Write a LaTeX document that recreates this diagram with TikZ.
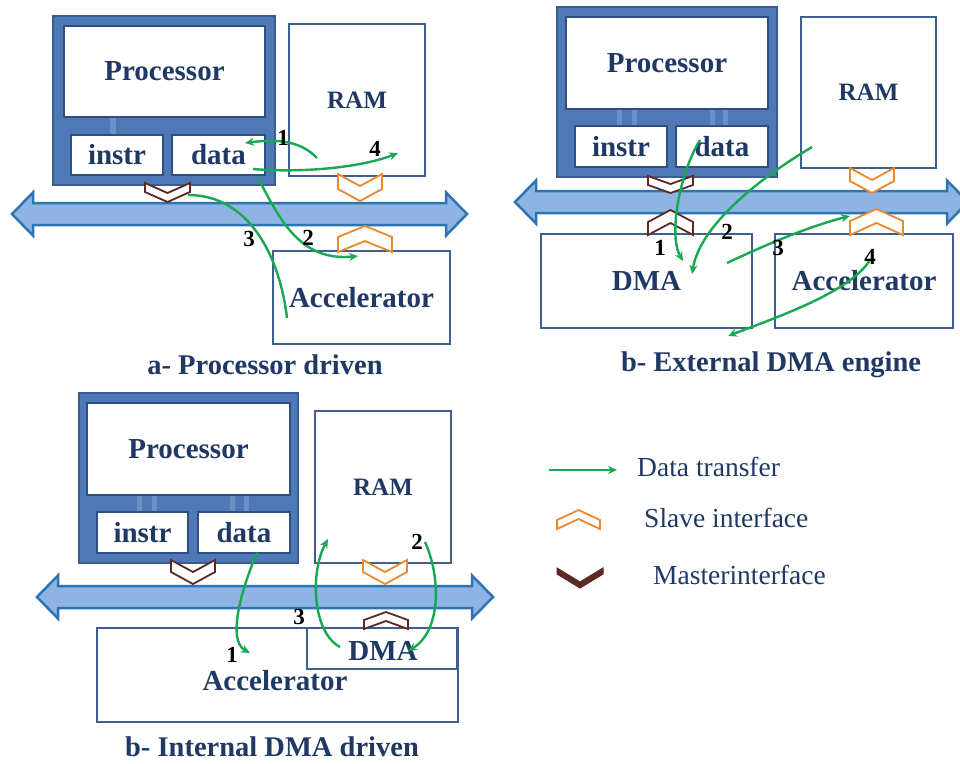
\documentclass[tikz,border=0pt]{standalone}
\usepackage{fontspec}
\setmainfont{Liberation Serif}
\usetikzlibrary{arrows.meta}
\definecolor{navy}{HTML}{1F3864}
\definecolor{boxline}{HTML}{3F5F8F}
\definecolor{procfill}{HTML}{4F78B6}
\definecolor{procline}{HTML}{3A5C92}
\definecolor{procmark}{HTML}{6A90C8}
\definecolor{subline}{HTML}{2F4F80}
\definecolor{busfill}{HTML}{8EB4E3}
\definecolor{busline}{HTML}{2E74B5}
\definecolor{grn}{HTML}{17A851}
\definecolor{slaveor}{HTML}{E8892E}
\definecolor{masterbr}{HTML}{5C2A22}
\tikzset{
 box/.style={draw=boxline, line width=1.8pt, fill=white, inner sep=0pt, font=\fontsize{29}{32}\selectfont\bfseries, text=navy},
 proc/.style={draw=procline, line width=2pt, fill=procfill, inner sep=0pt},
 subbox/.style={draw=subline, line width=1.5pt, fill=white, inner sep=0pt, font=\fontsize{29}{32}\selectfont\bfseries, text=navy},
 ramfont/.style={font=\fontsize{25}{28}\selectfont\bfseries},
 bus/.style={draw=busline, line width=2.5pt, fill=busfill, line join=miter},
 slave/.style={draw=slaveor, line width=1.8pt, fill=white, line join=miter},
 master/.style={draw=masterbr, line width=1.8pt, fill=white, line join=miter},
 flow/.style={draw=grn, line width=2.4pt, -{Stealth[length=9pt,width=8pt]}},
 flowplain/.style={draw=grn, line width=2.4pt},
 num/.style={font=\fontsize{23}{25}\selectfont\bfseries, text=black, inner sep=0pt},
 ttl/.style={font=\fontsize{28.5}{31}\selectfont\bfseries, text=navy, inner sep=0pt},
 leg/.style={font=\fontsize{27.5}{30}\selectfont, text=navy, anchor=west, inner sep=0pt},
 procmk/.style={fill=procmark, draw=none},
}
\newcommand{\busarrow}[3]{%
 \draw[bus] (#1,#3) -- ({#1+21},{#3-21.5}) -- ({#1+21},{#3-11}) -- ({#2-21},{#3-11}) -- ({#2-21},{#3-21.5}) -- (#2,#3) -- ({#2-21},{#3+21.5}) -- ({#2-21},{#3+11}) -- ({#1+21},{#3+11}) -- ({#1+21},{#3+21.5}) -- cycle;}
\newcommand{\chevD}[6]{%
 \draw[#6] (#1,#2) -- (#1,{#2+#5}) -- ({#1+#3/2},{#2+#4}) -- ({#1+#3},{#2+#5}) -- ({#1+#3},#2) -- ({#1+#3/2},{#2+#4-#5}) -- cycle;}
\newcommand{\chevU}[6]{%
 \draw[#6] ({#1+#3/2},#2) -- ({#1+#3},{#2+#4-#5}) -- ({#1+#3},{#2+#4}) -- ({#1+#3/2},{#2+#5}) -- (#1,{#2+#4}) -- (#1,{#2+#4-#5}) -- cycle;}
\begin{document}
\begin{tikzpicture}[x=1pt,y=-1pt]
\useasboundingbox[fill=white] (0,0) rectangle (960,763);

% ================= Panel a =================
\node[proc, minimum width=222pt, minimum height=169pt] (procA) at (164,100.5) {};
\fill[procmk] (110,117) rectangle (116,135);
\node[subbox, minimum width=201pt, minimum height=91pt] (cpuA) at (164.5,71.5) {Processor};
\node[subbox, minimum width=92pt, minimum height=40pt] (instrA) at (117,155) {instr};
\node[subbox, minimum width=93pt, minimum height=40pt] (dataA) at (218.5,155) {data};
\node[box, ramfont, minimum width=136pt, minimum height=152pt] (ramA) at (357,100) {RAM};
\node[box, minimum width=177pt, minimum height=93pt] (accA) at (361.5,297.5) {Accelerator};
\busarrow{12}{467}{214}
\chevD{145}{183}{45}{19}{9}{master}
\chevD{338}{174}{44}{27}{15}{slave}
\chevU{338}{226}{54}{26}{15}{slave}
\coordinate (a1s) at (317,158); \coordinate (a1e) at (245,143);
\coordinate (a4s) at (253,169); \coordinate (a4e) at (398,153);
\coordinate (a2s) at (258,178); \coordinate (a2e) at (358,256);
\coordinate (a3s) at (287,318); \coordinate (a3e) at (188,195);
\draw[flow] (a1s) .. controls (300,140) and (275,139) .. (a1e);
\draw[flow] (a4s) .. controls (300,173) and (360,168) .. (a4e);
\draw[flow] (a2s) .. controls (278,215) and (298,262) .. (a2e);
\draw[flowplain] (a3s) .. controls (280,258) and (250,195) .. (a3e);
\node[num] (na1) at (283,138) {1};
\node[num] (na4) at (375,149) {4};
\node[num] (na2) at (308,238) {2};
\node[num] (na3) at (249,239) {3};
\node[ttl] (ta) at (265,365) {a- Processor driven};

% ================= Panel b =================
\node[proc, minimum width=220pt, minimum height=170pt] (procB) at (667,92) {};
\fill[procmk] (617,109) rectangle (622,126);
\fill[procmk] (632,109) rectangle (637,126);
\fill[procmk] (710,109) rectangle (715,126);
\fill[procmk] (723,109) rectangle (728,126);
\node[subbox, minimum width=202pt, minimum height=92pt] (cpuB) at (667,63) {Processor};
\node[subbox, minimum width=92pt, minimum height=41pt] (instrB) at (621,146.5) {instr};
\node[subbox, minimum width=92pt, minimum height=41pt] (dataB) at (722,146.5) {data};
\node[box, ramfont, minimum width=135pt, minimum height=151pt] (ramB) at (868.5,92.5) {RAM};
\node[box, minimum width=211pt, minimum height=94pt] (dmaB) at (646.5,281) {DMA};
\node[box, minimum width=178pt, minimum height=94pt] (accB) at (864,281) {Accelerator};
\busarrow{515}{968}{202}
\chevD{648}{176}{45}{17}{9}{master}
\chevU{648}{210}{45}{25}{13}{master}
\chevD{850}{168}{44}{25}{13}{slave}
\chevU{850}{209}{53}{26}{14}{slave}
\coordinate (b1s) at (700,140); \coordinate (b1e) at (683,261);
\coordinate (b2s) at (812,147); \coordinate (b2e) at (692,274);
\coordinate (b3s) at (727,263); \coordinate (b3e) at (850,216);
\coordinate (b4s) at (870,260); \coordinate (b4e) at (728,336);
\draw[flow] (b1s) .. controls (680,172) and (668,235) .. (b1e);
\draw[flow] (b2s) .. controls (760,178) and (700,225) .. (b2e);
\draw[flow] (b3s) .. controls (765,245) and (810,226) .. (b3e);
\draw[flow] (b4s) .. controls (850,292) and (780,316) .. (b4e);
\node[num] (nb1) at (660,248) {1};
\node[num] (nb2) at (727,232) {2};
\node[num] (nb3) at (778,248) {3};
\node[num] (nb4) at (870,257) {4};
\node[ttl] (tb) at (771,365) {b- External DMA engine};

% ================= Panel c =================
\node[proc, minimum width=219pt, minimum height=170pt] (procC) at (188.5,478) {};
\fill[procmk] (137,495) rectangle (142,512);
\fill[procmk] (152,495) rectangle (157,512);
\fill[procmk] (230,495) rectangle (235,512);
\fill[procmk] (244,495) rectangle (249,512);
\node[subbox, minimum width=203pt, minimum height=92pt] (cpuC) at (188.5,449) {Processor};
\node[subbox, minimum width=91pt, minimum height=41pt] (instrC) at (142.5,532.5) {instr};
\node[subbox, minimum width=92pt, minimum height=41pt] (dataC) at (244,532.5) {data};
\node[box, ramfont, minimum width=136pt, minimum height=152pt] (ramC) at (383,487) {RAM};
\node[box, minimum width=361pt, minimum height=94pt] (accC) at (277.5,675) {};
\node[box, draw=none, fill=none] (accCl) at (275,681) {Accelerator};
\node[box, minimum width=150pt, minimum height=41pt, fill=none] (dmaC) at (382,648.5) {};
\node[box, draw=none, fill=none] (dmaCl) at (383,651) {DMA};
\busarrow{37}{493}{597}
\chevD{171}{560}{44}{24}{12}{master}
\chevD{363}{560}{44}{24}{12}{slave}
\chevU{364}{612}{44}{17}{9}{master}
\coordinate (c1s) at (257,553); \coordinate (c1e) at (250,653);
\coordinate (c2s) at (425,542); \coordinate (c2e) at (408,651);
\coordinate (c3s) at (340,647); \coordinate (c3e) at (328,539);
\draw[flow] (c1s) .. controls (243,585) and (226,640) .. (c1e);
\draw[flow] (c2s) .. controls (442,580) and (440,632) .. (c2e);
\draw[flow] (c3s) .. controls (312,632) and (310,572) .. (c3e);
\node[num] (nc1) at (232,655) {1};
\node[num] (nc2) at (417,542) {2};
\node[num] (nc3) at (299,617) {3};
\node[ttl] (tc) at (272,747) {b- Internal DMA driven};

% ================= Legend =================
\coordinate (lgs) at (549,470); \coordinate (lge) at (617,470);
\draw[flow, line width=2.2pt] (lgs) -- (lge);
\node[leg] (l1) at (637,467) {Data transfer};
\chevU{557}{510}{43}{19}{9}{slave}
\node[leg] (l2) at (644,518) {Slave interface};
\chevD{557}{568}{46}{20}{6}{master, line width=1pt, fill=masterbr}
\node[leg] (l3) at (653,575) {Masterinterface};
\end{tikzpicture}
\end{document}
